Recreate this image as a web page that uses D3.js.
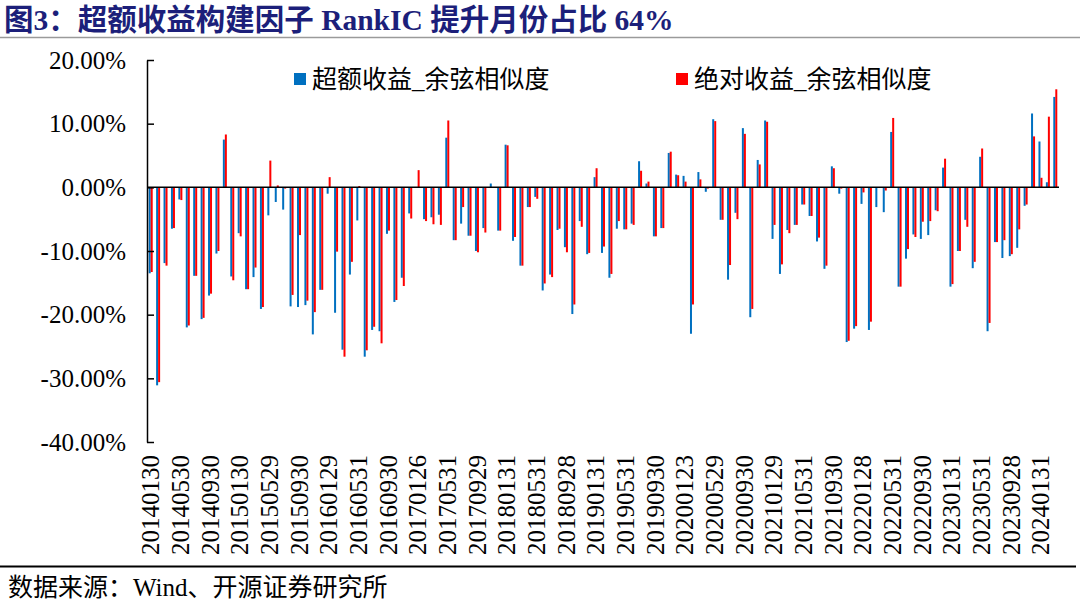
<!DOCTYPE html>
<html><head><meta charset="utf-8">
<script src="https://cdn.jsdelivr.net/npm/d3@7"></script>
<style>
html,body{margin:0;padding:0;background:#fff;}
svg{display:block;}
</style></head><body>
<svg id="c" width="1080" height="603"></svg>
<script>
const titleText = "图3：超额收益构建因子 RankIC 提升月份占比 64%";
const sourceText = "数据来源：Wind、开源证券研究所";
const seriesNames = ["超额收益_余弦相似度", "绝对收益_余弦相似度"];
const tickLabels = ["20140130","20140530","20140930","20150130","20150529","20150930","20160129","20160531",
  "20160930","20170126","20170531","20170929","20180131","20180531","20180928","20190131","20190531",
  "20190930","20200123","20200529","20200930","20210129","20210531","20210930","20220128","20220531",
  "20220930","20230131","20230531","20230928","20240131"];
const yTicks = [20, 10, 0, -10, -20, -30, -40];
const excess = [-13.5,-31.1,-11.9,-6.5,-1.9,-22.0,-13.9,-20.7,-17.0,-10.4,
  7.5,-14.0,-7.2,-16.0,-14.1,-19.1,-4.4,-2.3,-3.5,-18.7,
  -18.8,-18.5,-23.1,-16.1,-1.0,-19.7,-25.5,-13.7,-5.2,-26.6,
  -22.4,-22.6,-7.3,-18.0,-14.2,-4.1,-0.1,-5.0,-4.7,-4.3,
  7.8,-8.3,-5.7,-7.6,-10.0,-6.4,0.6,-6.8,6.7,-8.4,
  -12.3,-3.1,-1.5,-16.2,-13.7,-6.7,-9.4,-19.9,-5.3,-10.5,
  1.6,-10.3,-14.2,-6.5,-6.6,-5.7,4.1,0.6,-7.7,-6.4,
  5.4,2.0,1.8,-23.0,2.4,-0.7,10.7,-5.1,-14.5,-4.0,
  9.3,-20.4,4.3,10.5,-8.1,-13.6,-6.7,-5.9,-2.7,-4.5,
  -8.5,-12.8,3.3,-1.0,-24.3,-22.2,-2.6,-22.4,-3.1,-3.9,
  8.7,-15.6,-11.2,-7.4,-8.1,-7.5,-3.6,3.1,-15.6,-10.0,
  -5.1,-12.7,4.8,-22.6,-8.6,-11.1,-10.8,-9.5,-2.9,11.6,
  7.2,0.8,14.2];
const absolute = [-13.3,-30.6,-12.3,-6.4,-2.0,-21.7,-13.9,-20.5,-16.7,-10.0,
  8.3,-14.6,-7.7,-16.0,-12.6,-18.8,4.2,0.3,-0.2,-16.9,
  -7.5,-17.8,-19.6,-16.1,1.6,-10.1,-26.6,-11.7,0.2,-25.6,
  -21.9,-24.5,-6.8,-17.7,-15.5,-4.9,2.7,-5.3,-5.8,-5.9,
  10.5,-8.3,-3.1,-7.6,-10.2,-7.1,0.05,-6.8,6.6,-7.8,
  -12.3,-3.1,-1.8,-15.1,-14.1,-6.5,-10.2,-18.4,-6.2,-10.3,
  3.0,-9.3,-13.6,-5.3,-6.6,-5.9,2.6,0.9,-7.7,-6.4,
  5.6,1.9,0.9,-18.4,1.25,-0.2,10.4,-5.1,-12.2,-5.0,
  8.4,-19.1,3.6,10.3,-5.9,-12.1,-7.2,-5.9,-2.7,-4.5,
  -7.9,-12.3,3.0,-0.2,-24.1,-21.8,-0.8,-21.1,-0.1,-0.5,
  10.9,-15.6,-9.7,-7.8,-5.4,-5.3,-3.75,4.5,-15.2,-10.0,
  -6.2,-11.7,6.1,-21.3,-8.6,-8.3,-10.5,-6.6,-2.7,8.0,
  1.5,11.1,15.4];
const colors = ["#0070C0", "#FF0000"];

const serif = "'Liberation Serif','Times New Roman','Noto Sans CJK SC',serif";
const cjk = "'Liberation Serif','Noto Sans CJK SC',sans-serif";
const svg = d3.select("#c");
const plot = {left: 147, right: 1059, top: 60, bottom: 442};

const x = d3.scaleBand().domain(d3.range(excess.length)).range([plot.left, plot.right]).padding(0);
const y = d3.scaleLinear().domain([-40, 20]).range([plot.bottom, plot.top]);
const barW = 2;

// title
svg.append("text").attr("x", 4).attr("y", 30)
  .style("font-family", serif).style("font-weight", "bold").style("font-size", "29.5px")
  .attr("fill", "#1c1f7a").text(titleText);
svg.append("line").attr("x1", 0).attr("x2", 1080).attr("y1", 37.5).attr("y2", 37.5)
  .attr("stroke", "#9a9a9a").attr("stroke-width", 1.5);

// bars
const series = [excess, absolute];
series.forEach((vals, s) => {
  svg.append("g").selectAll("rect").data(vals).join("rect")
    .attr("x", (d, i) => x(i) + x.bandwidth() / 2 - barW + s * barW)
    .attr("width", barW)
    .attr("y", d => y(Math.max(0, d)))
    .attr("height", d => Math.abs(y(d) - y(0)))
    .attr("fill", colors[s]);
});

// y axis
const yAxis = d3.axisLeft(y).tickValues(yTicks).tickSizeInner(-7).tickSizeOuter(0).tickPadding(21)
  .tickFormat(d => d.toFixed(2) + "%");
const gy = svg.append("g").attr("transform", `translate(${plot.left},0)`).call(yAxis);
gy.selectAll("path,line").attr("stroke", "#000").attr("stroke-width", 1.5);
gy.selectAll("text").style("font-family", serif).style("font-size", "25px").attr("fill", "#000");

// zero line
svg.append("line").attr("x1", plot.left).attr("x2", plot.right).attr("y1", y(0)).attr("y2", y(0))
  .attr("stroke", "#000").attr("stroke-width", 1.5);

// x labels
const xAxis = d3.axisBottom(x).tickValues(d3.range(0, excess.length, 4))
  .tickFormat(i => tickLabels[i / 4]).tickSize(0);
const gx = svg.append("g").attr("transform", "translate(0,455)").call(xAxis);
gx.select(".domain").remove();
gx.selectAll("text").attr("x", 0).attr("y", 0).attr("dy", "0.35em")
  .attr("transform", "rotate(-90)").style("text-anchor", "end")
  .style("font-family", serif).style("font-size", "25px").attr("fill", "#000");

// legend
const legendX = [294, 676];
seriesNames.forEach((n, s) => {
  svg.append("rect").attr("x", legendX[s]).attr("y", 73).attr("width", 12).attr("height", 12).attr("fill", colors[s]);
  svg.append("text").attr("x", legendX[s] + 18).attr("y", 79).attr("dominant-baseline", "central")
    .style("font-family", cjk).style("font-size", "25px").attr("fill", "#000").text(n);
});

// bottom rule and source
svg.append("line").attr("x1", 0).attr("x2", 1076).attr("y1", 566.5).attr("y2", 566.5)
  .attr("stroke", "#000").attr("stroke-width", 2);
svg.append("text").attr("x", 8).attr("y", 596)
  .style("font-family", cjk).style("font-size", "25px").attr("fill", "#000").text(sourceText);
</script>
</body></html>
